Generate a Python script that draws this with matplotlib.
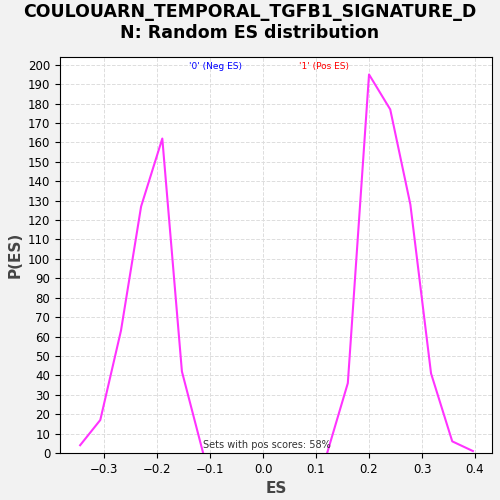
import matplotlib.pyplot as plt

# Random ES distribution, negative and positive parts
neg_es = [-0.345, -0.307, -0.268, -0.230, -0.190, -0.153, -0.113]
neg_p = [4, 17, 63, 127, 162, 42, 0]
pos_es = [0.121, 0.160, 0.200, 0.240, 0.278, 0.317, 0.357, 0.396]
pos_p = [0, 36, 195, 177, 128, 41, 6, 1]

fig = plt.figure(figsize=(5, 5), dpi=100, facecolor='#f2f2f2')
ax = fig.add_axes([0.12, 0.094, 0.864, 0.792])
ax.plot(neg_es, neg_p, color='#ff33ff', lw=1.5)
ax.plot(pos_es, pos_p, color='#ff33ff', lw=1.5)
ax.set_xlim(-0.383, 0.432)
ax.set_ylim(0, 204)
ax.set_xticks([-0.3, -0.2, -0.1, 0.0, 0.1, 0.2, 0.3, 0.4])
ax.set_yticks(range(0, 201, 10))
ax.tick_params(labelsize=8.5)
ax.grid(True, color='#dddddd', ls='--', lw=0.7)
ax.set_xlabel('ES', fontsize=11, fontweight='bold', color='#444444')
ax.set_ylabel('P(ES)', fontsize=11, fontweight='bold', color='#444444')
fig.text(0.5, 0.955, 'COULOUARN_TEMPORAL_TGFB1_SIGNATURE_D\nN: Random ES distribution',
         fontsize=12.5, fontweight='bold', ha='center', va='center', linespacing=1.2)
ax.text(0.36, 0.975, "'0' (Neg ES)", transform=ax.transAxes, color='blue',
        fontsize=6.5, ha='center', va='center')
ax.text(0.61, 0.975, "'1' (Pos ES)", transform=ax.transAxes, color='red',
        fontsize=6.5, ha='center', va='center')
ax.text(0.48, 0.008, 'Sets with pos scores: 58%', transform=ax.transAxes,
        fontsize=7, ha='center', va='bottom', color='#333333')
fig.savefig('out.png', facecolor=fig.get_facecolor())
